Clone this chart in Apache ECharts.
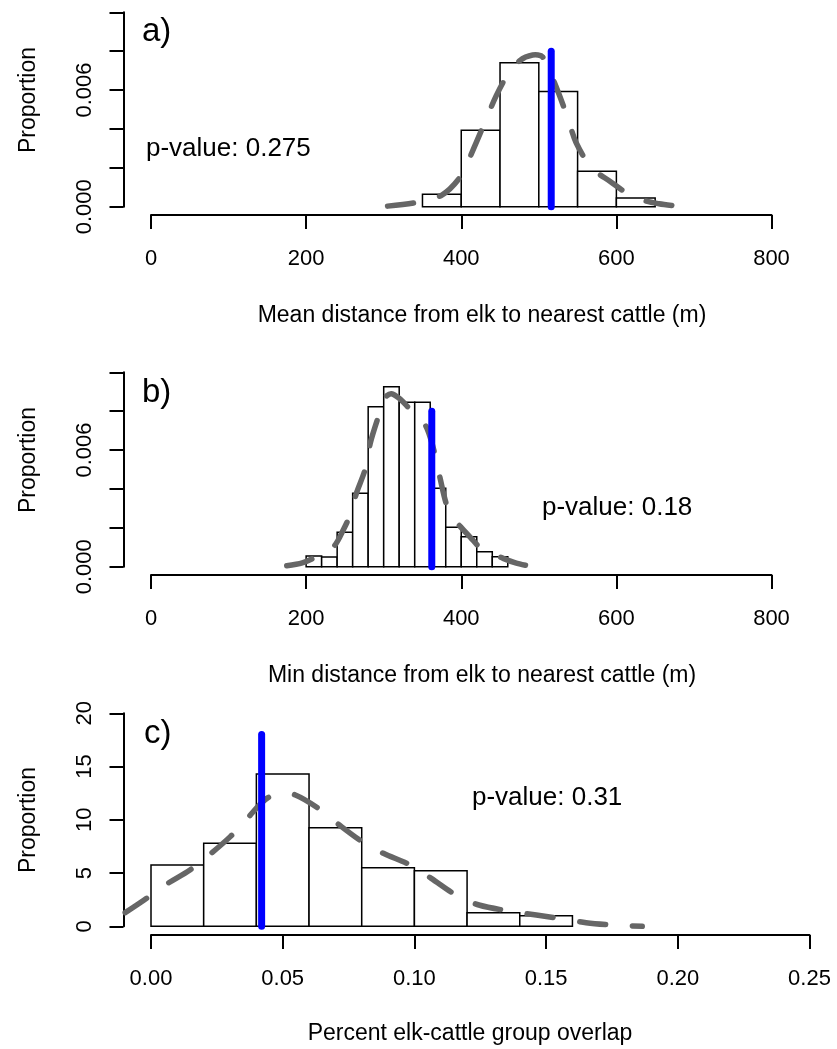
<!DOCTYPE html>
<html>
<head>
<meta charset="utf-8">
<script src="https://cdn.jsdelivr.net/npm/echarts@6/dist/echarts.min.js"></script>
<style>
html,body{margin:0;padding:0;background:#fff;}
#chart{width:837px;height:1049px;}
</style>
</head>
<body>
<div id="chart"></div>
<script>
// ---------- data ----------
const xTickLabelsAB = ['0', '200', '400', '600', '800'];
const xTickLabelsC = ['0.00', '0.05', '0.10', '0.15', '0.20', '0.25'];
const yTickLabelsA = ['0.000', '', '', '0.006', '', ''];
const yTickLabelsB = ['0.000', '', '', '0.006', '', ''];
const yTickLabelsC = ['0', '5', '10', '15', '20'];

const binEdgesA = [350, 400, 450, 500, 550, 600, 650];
const binHeightsA = [0.00064, 0.00393, 0.00741, 0.00592, 0.00182, 0.00045];
const binEdgesB = [200, 220, 240, 260, 280, 300, 320, 340, 360, 380, 400, 420, 440, 460];
const binHeightsB = [0.00055, 0.0005, 0.00177, 0.00378, 0.00823, 0.00926, 0.00846, 0.00846, 0.00403, 0.00203, 0.00154, 0.00077, 0.00051];
const binEdgesC = [0, 0.02, 0.04, 0.06, 0.08, 0.10, 0.12, 0.14, 0.16];
const binHeightsC = [5.76, 7.79, 14.3, 9.26, 5.5, 5.22, 1.28, 0.99];

const densityXA = [305, 340, 375, 400, 415, 430, 445, 460, 475, 492, 505, 520, 537, 548, 568, 592, 622, 655, 682];
const densityYA = [0.00003, 0.0002, 0.0006, 0.0016, 0.0029, 0.0043, 0.0057, 0.0068, 0.0075, 0.0078, 0.0077, 0.0064, 0.0046, 0.0033, 0.002, 0.0013, 0.0005, 0.00015, 0.00003];
const densityXB = [175, 195, 210, 225, 237, 248, 256, 265, 276, 283, 293, 302, 310, 322, 334, 346, 356, 366, 373, 381, 390, 398, 412, 424, 440, 454, 470, 488];
const densityYB = [0.00005, 0.0002, 0.00045, 0.0008, 0.0011, 0.0019, 0.0026, 0.0038, 0.005, 0.0064, 0.0077, 0.0087, 0.0089, 0.0086, 0.0081, 0.0077, 0.0071, 0.0058, 0.0045, 0.0032, 0.0025, 0.0021, 0.0015, 0.001, 0.0007, 0.00043, 0.0002, 0.00003];
const densityXC = [-0.0098, -0.0026, 0.0054, 0.0148, 0.0221, 0.0301, 0.0366, 0.0432, 0.049, 0.0548, 0.0635, 0.0715, 0.0802, 0.0882, 0.0984, 0.1064, 0.1158, 0.1245, 0.1376, 0.155, 0.1652, 0.1754, 0.1865];
const densityYC = [1.28, 2.47, 3.88, 5.29, 6.7, 8.42, 10.14, 11.86, 12.55, 12.33, 11.08, 9.51, 7.94, 6.85, 5.76, 4.5, 2.94, 2.0, 1.37, 0.75, 0.34, 0.12, 0.0];

const observedA = 516, observedTopA = 0.008;
const observedB = 362, observedTopB = 0.008;
const observedC = 0.042, observedTopC = 18;

const pValueA = 'p-value: 0.275';
const pValueB = 'p-value: 0.18';
const pValueC = 'p-value: 0.31';
const xTitleA = 'Mean distance from elk to nearest cattle (m)';
const xTitleB = 'Min distance from elk to nearest cattle (m)';
const xTitleC = 'Percent elk-cattle group overlap';
const yTitle = 'Proportion';

// ---------- build ----------
const FONT = '"Liberation Sans", Arial, Helvetica, sans-serif';

function bins(edges, heights) {
  return heights.map((h, i) => [edges[i], edges[i + 1], h]);
}
function pairs(xs, ys) { return xs.map((x, i) => [x, ys[i]]); }

function xAxisCfg(g, max, interval, labels, offset) {
  return {
    type: 'value', gridIndex: g, min: 0, max: max, interval: interval, position: 'bottom', offset: offset,
    axisLine: { show: true, onZero: false, lineStyle: { color: '#000', width: 2 } },
    axisTick: { show: true, inside: false, length: 14, lineStyle: { color: '#000', width: 2 } },
    axisLabel: { margin: 33, fontSize: 22, fontFamily: FONT, color: '#000', formatter: (v, i) => labels[i] },
    splitLine: { show: false }
  };
}
function yAxisCfg(g, max, interval, labels) {
  return {
    type: 'value', gridIndex: g, min: 0, max: max, interval: interval, position: 'left', offset: 27.5,
    axisLine: { show: true, onZero: false, lineStyle: { color: '#000', width: 2 } },
    axisTick: { show: true, inside: false, length: 14, lineStyle: { color: '#000', width: 2 } },
    axisLabel: { margin: 28, rotate: 90, fontSize: 22, fontFamily: FONT, color: '#000', formatter: (v, i) => labels[i] },
    splitLine: { show: false }
  };
}

function histSeries(g, data) {
  return {
    type: 'custom', xAxisIndex: g, yAxisIndex: g, data: data, encode: { x: [0, 1], y: 2 }, clip: false,
    renderItem: function (params, api) {
      const p0 = api.coord([api.value(0), 0]);
      const p1 = api.coord([api.value(1), api.value(2)]);
      return {
        type: 'rect',
        shape: { x: p0[0], y: p1[1], width: p1[0] - p0[0], height: p0[1] - p1[1] },
        style: { fill: '#ffffff', stroke: '#000000', lineWidth: 1.5 }
      };
    }
  };
}
// whole density curve drawn as one smooth polyline through the axis scales
function densitySeries(g, xs, ys) {
  return {
    type: 'custom', xAxisIndex: g, yAxisIndex: g, data: pairs(xs, ys), encode: { x: 0, y: 1 }, clip: false,
    renderItem: function (params, api) {
      if (params.dataIndex !== 0) return null;
      const pts = xs.map((x, i) => api.coord([x, ys[i]]));
      return {
        type: 'polyline',
        shape: { points: pts, smooth: 0.3 },
        style: { fill: null, stroke: '#666666', lineWidth: 5.5, lineDash: [26, 27], lineCap: 'round', lineJoin: 'round' }
      };
    }
  };
}
function obsSeries(g, x, top) {
  return {
    type: 'line', xAxisIndex: g, yAxisIndex: g, data: [[x, 0], [x, top]], symbol: 'none', clip: false,
    lineStyle: { color: '#0000ff', width: 7, cap: 'round' }
  };
}
function txt(text, x, y, size, align, rot) {
  return {
    type: 'text', x: x, y: y, rotation: rot || 0, z: 100,
    style: { text: text, font: size + 'px ' + FONT, fill: '#000',
             align: align, verticalAlign: 'middle', textAlign: align, textVerticalAlign: 'middle' }
  };
}

const chart = echarts.init(document.getElementById('chart'), null, { renderer: 'canvas' });
chart.setOption({
  animation: false,
  backgroundColor: '#ffffff',
  grid: [
    { left: 151, top: 12.3, width: 620.5, height: 194.4 },
    { left: 151, top: 372.3, width: 620.5, height: 194.4 },
    { left: 151, top: 713.3, width: 658.5, height: 213 }
  ],
  xAxis: [
    xAxisCfg(0, 800, 200, xTickLabelsAB, 8.3),
    xAxisCfg(1, 800, 200, xTickLabelsAB, 8.3),
    xAxisCfg(2, 0.25, 0.05, xTickLabelsC, 8.7)
  ],
  yAxis: [
    yAxisCfg(0, 0.010, 0.002, yTickLabelsA),
    yAxisCfg(1, 0.010, 0.002, yTickLabelsB),
    yAxisCfg(2, 20, 5, yTickLabelsC)
  ],
  series: [
    histSeries(0, bins(binEdgesA, binHeightsA)),
    densitySeries(0, densityXA, densityYA),
    obsSeries(0, observedA, observedTopA),
    histSeries(1, bins(binEdgesB, binHeightsB)),
    densitySeries(1, densityXB, densityYB),
    obsSeries(1, observedB, observedTopB),
    histSeries(2, bins(binEdgesC, binHeightsC)),
    densitySeries(2, densityXC, densityYC),
    obsSeries(2, observedC, observedTopC)
  ],
  graphic: [
    txt('a)', 142, 32, 33, 'left'),
    txt('b)', 142, 393, 33, 'left'),
    txt('c)', 144, 734, 33, 'left'),
    txt(pValueA, 146, 149, 26, 'left'),
    txt(pValueB, 542, 508, 26, 'left'),
    txt(pValueC, 472, 798, 26, 'left'),
    txt(xTitleA, 482, 316, 23, 'center'),
    txt(xTitleB, 482, 676, 23, 'center'),
    txt(xTitleC, 470, 1034, 23, 'center'),
    txt(yTitle, 29, 100, 23, 'center', Math.PI / 2),
    txt(yTitle, 29, 460, 23, 'center', Math.PI / 2),
    txt(yTitle, 29, 820, 23, 'center', Math.PI / 2)
  ]
});
</script>
</body>
</html>
